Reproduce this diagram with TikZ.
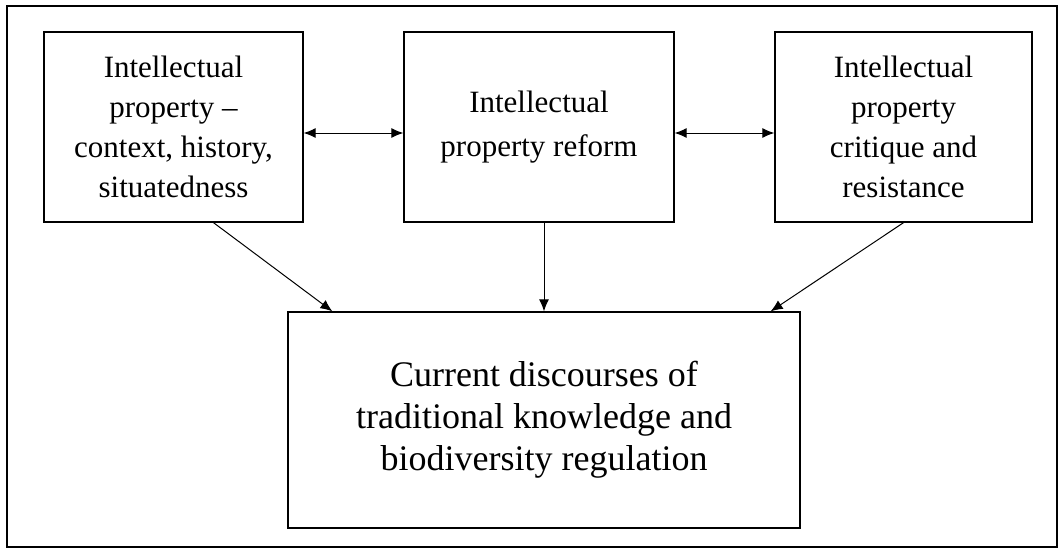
\documentclass[tikz,border=0pt]{standalone}
\usepackage{fontspec}
\setmainfont{Liberation Serif}
\usetikzlibrary{arrows.meta}

\begin{document}
\begin{tikzpicture}[x=1pt, y=-1pt,
        topbox/.style={draw, line width=1.3pt, align=center, inner sep=0pt,
            minimum height=190pt, font=\fontsize{31}{40}\selectfont},
        resultbox/.style={draw, line width=1.3pt, align=center, inner sep=0pt,
            minimum width=512pt, minimum height=216pt,
            font=\fontsize{36}{42}\selectfont},
        link/.style={line width=1pt, -{Latex[length=12pt,width=10pt]}},
        twoway/.style={line width=1pt, {Latex[length=12pt,width=10pt]}-{Latex[length=12pt,width=10pt]}}]
    \useasboundingbox (0,0) rectangle (1060,550);
    \draw[line width=1.2pt] (7,6) rectangle (1057,547);
    \node[topbox, minimum width=259pt] (history) at (173.5,127)
        {Intellectual\\property --\\context, history,\\situatedness};
    \node[topbox, minimum width=270pt, font=\fontsize{31}{44}\selectfont] (reform) at (539,127)
        {Intellectual\\property reform};
    \node[topbox, minimum width=257pt] (critique) at (903.5,127)
        {Intellectual\\property\\critique and\\resistance};
    \node[resultbox] (discourse) at (544,420)
        {Current discourses of\\traditional knowledge and\\biodiversity regulation};
    \draw[twoway] ([yshift=-6pt]history.east) -- ([yshift=-6pt]reform.west);
    \draw[twoway] ([yshift=-6pt]reform.east) -- ([yshift=-6pt]critique.west);
    \draw[link] ([xshift=40pt]history.south) -- ([xshift=45pt]discourse.north west);
    \draw[link] ([xshift=5pt]reform.south) -- ([xshift=5pt]reform.south |- discourse.north);
    \draw[link] (critique.south) -- ([xshift=-30pt]discourse.north east);
\end{tikzpicture}
\end{document}
